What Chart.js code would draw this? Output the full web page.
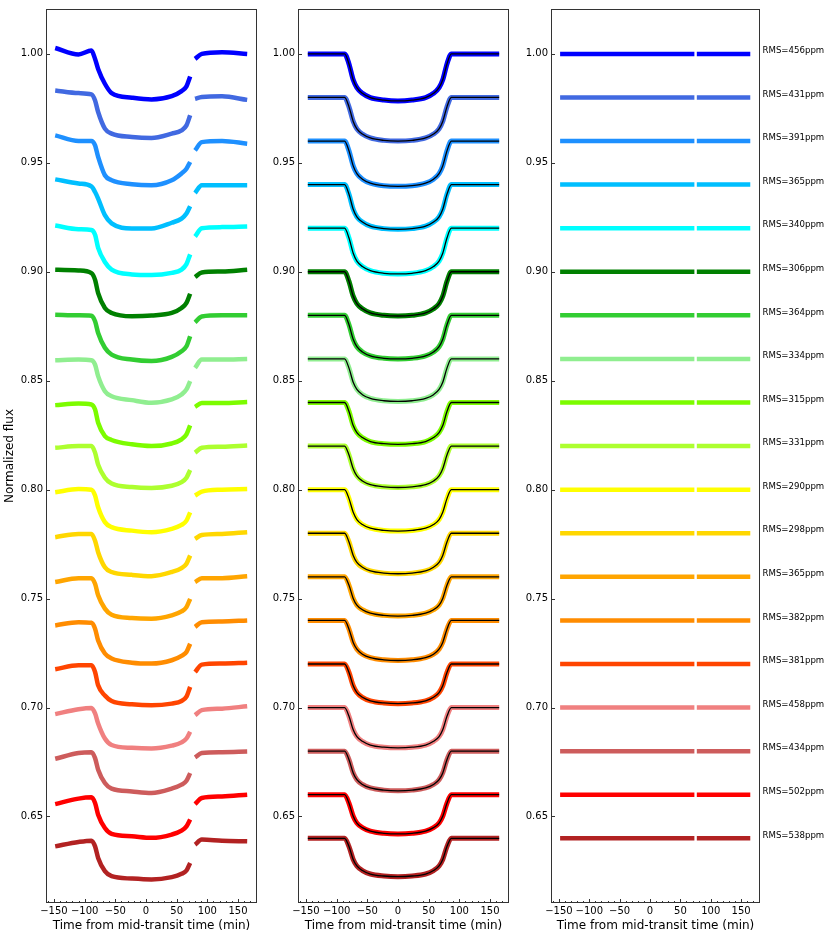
<!DOCTYPE html>
<html>
<head>
<meta charset="utf-8">
<script src="https://cdn.jsdelivr.net/npm/chart.js@4.4.1/dist/chart.umd.min.js"></script>
<style>
html, body { margin: 0; padding: 0; background: #fff; }
#wrap { position: relative; width: 830px; height: 938px; }
canvas { position: absolute; top: 0; }
</style>
</head>
<body>
<div id="wrap">
    <canvas id="rawChart" width="270" height="938" style="left:0px"></canvas>
    <canvas id="fitChart" width="253" height="938" style="left:270px"></canvas>
    <canvas id="resChart" width="307" height="938" style="left:523px"></canvas>
</div>
<script>
const baselines = [1.00, 0.98, 0.96, 0.94, 0.92, 0.90, 0.88, 0.86, 0.84, 0.82, 0.80, 0.78, 0.76, 0.74, 0.72, 0.70, 0.68, 0.66, 0.64];
const rmsPpm = [456, 431, 391, 365, 340, 306, 364, 334, 315, 331, 290, 298, 365, 382, 381, 458, 434, 502, 538];
const bandColors = ['#0000ff', '#4169e1', '#1e90ff', '#00bfff', '#00ffff', '#008000', '#32cd32', '#90ee90', '#7cfc00', '#adff2f',
    '#ffff00', '#ffd700', '#ffa500', '#ff8c00', '#ff4500', '#f08080', '#cd5c5c', '#ff0000', '#b22222'];

const xTicks = [-150, -100, -50, 0, 50, 100, 150];
const xMinorTicks = [-160, -140, -130, -120, -110, -90, -80, -70, -60, -40, -30, -20, -10, 10, 20, 30, 40, 60, 70, 80, 90, 110, 120, 130, 140, 160, 170, 180];
const yTicks = [0.65, 0.70, 0.75, 0.80, 0.85, 0.90, 0.95, 1.00];

// left panel: raw light curves (null = data gap)
const rawTimes = [-148, -110, -89, -83, -78, -67, -56, -23, 9, 42, 58, 66, 72, 76, 80, 91, 124, 165];
const rawFlux = [
    [1.0027, 0.9997, 1.0015, 0.9977, 0.9931, 0.9863, 0.9820, 0.9799, 0.9791, 0.9806, 0.9829, 0.9851, 0.9896, null, 0.9977, 1.0000, 1.0008, 1.0000],
    [0.9832, 0.9820, 0.9814, 0.9786, 0.9733, 0.9657, 0.9634, 0.9619, 0.9614, 0.9634, 0.9649, 0.9672, 0.9718, null, 0.9794, 0.9802, 0.9805, 0.9789],
    [0.9626, 0.9600, 0.9600, 0.9580, 0.9527, 0.9443, 0.9420, 0.9402, 0.9397, 0.9420, 0.9451, 0.9473, 0.9504, null, 0.9557, 0.9595, 0.9600, 0.9588],
    [0.9424, 0.9405, 0.9392, 0.9366, 0.9336, 0.9260, 0.9222, 0.9199, 0.9199, 0.9225, 0.9244, 0.9267, 0.9301, null, 0.9362, 0.9397, 0.9397, 0.9397],
    [0.9212, 0.9195, 0.9192, 0.9170, 0.9110, 0.9045, 0.9010, 0.8988, 0.8985, 0.8995, 0.9010, 0.9035, 0.9080, null, 0.9162, 0.9200, 0.9205, 0.9208],
    [0.9009, 0.9006, 0.8994, 0.8963, 0.8902, 0.8834, 0.8811, 0.8796, 0.8799, 0.8811, 0.8834, 0.8857, 0.8899, null, 0.8976, 0.8997, 0.9001, 0.9009],
    [0.8803, 0.8800, 0.8798, 0.8773, 0.8719, 0.8651, 0.8620, 0.8597, 0.8590, 0.8609, 0.8635, 0.8658, 0.8704, null, 0.8768, 0.8795, 0.8800, 0.8800],
    [0.8594, 0.8597, 0.8594, 0.8574, 0.8521, 0.8452, 0.8429, 0.8411, 0.8399, 0.8414, 0.8437, 0.8460, 0.8498, null, 0.8559, 0.8597, 0.8597, 0.8600],
    [0.8388, 0.8395, 0.8391, 0.8368, 0.8307, 0.8246, 0.8228, 0.8208, 0.8200, 0.8212, 0.8231, 0.8254, 0.8295, null, 0.8380, 0.8398, 0.8398, 0.8402],
    [0.8192, 0.8200, 0.8200, 0.8170, 0.8115, 0.8055, 0.8028, 0.8012, 0.8008, 0.8018, 0.8035, 0.8055, 0.8090, null, 0.8170, 0.8192, 0.8197, 0.8203],
    [0.7988, 0.8003, 0.8000, 0.7973, 0.7919, 0.7851, 0.7828, 0.7812, 0.7805, 0.7820, 0.7838, 0.7858, 0.7896, null, 0.7973, 0.7991, 0.8000, 0.8003],
    [0.7782, 0.7797, 0.7797, 0.7766, 0.7713, 0.7644, 0.7622, 0.7609, 0.7603, 0.7622, 0.7640, 0.7660, 0.7698, null, 0.7774, 0.7792, 0.7797, 0.7805],
    [0.7576, 0.7594, 0.7594, 0.7568, 0.7515, 0.7454, 0.7426, 0.7411, 0.7408, 0.7423, 0.7441, 0.7461, 0.7499, null, 0.7576, 0.7594, 0.7594, 0.7603],
    [0.7377, 0.7392, 0.7389, 0.7362, 0.7308, 0.7248, 0.7225, 0.7206, 0.7202, 0.7217, 0.7237, 0.7255, 0.7293, null, 0.7370, 0.7392, 0.7395, 0.7400],
    [0.7176, 0.7194, 0.7194, 0.7163, 0.7102, 0.7055, 0.7030, 0.7015, 0.7010, 0.7018, 0.7030, 0.7050, 0.7095, null, 0.7163, 0.7197, 0.7202, 0.7206],
    [0.6970, 0.6992, 0.6998, 0.6973, 0.6927, 0.6858, 0.6828, 0.6815, 0.6812, 0.6825, 0.6840, 0.6858, 0.6889, null, 0.6965, 0.6988, 0.6995, 0.7006],
    [0.6765, 0.6791, 0.6795, 0.6768, 0.6715, 0.6654, 0.6628, 0.6615, 0.6608, 0.6628, 0.6646, 0.6664, 0.6699, null, 0.6771, 0.6791, 0.6795, 0.6798],
    [0.6557, 0.6582, 0.6588, 0.6562, 0.6508, 0.6447, 0.6420, 0.6409, 0.6402, 0.6417, 0.6435, 0.6455, 0.6486, null, 0.6557, 0.6585, 0.6592, 0.6600],
    [0.6363, 0.6383, 0.6389, 0.6363, 0.6310, 0.6249, 0.6226, 0.6215, 0.6211, 0.6222, 0.6237, 0.6252, 0.6287, null, 0.6371, 0.6394, 0.6389, 0.6386]
];

// middle panel: detrended light curves and transit model
const modelTimes = [-147, -87, -80, -73, -67, -58, -45, -23, 0, 23, 45, 58, 67, 73, 80, 87, 165];
const modelFlux = [
    [1.0000, 1.0000, 0.9955, 0.9881, 0.9845, 0.9819, 0.9799, 0.9788, 0.9784, 0.9788, 0.9799, 0.9819, 0.9845, 0.9881, 0.9955, 1.0000, 1.0000],
    [0.9800, 0.9800, 0.9758, 0.9690, 0.9656, 0.9632, 0.9614, 0.9603, 0.9600, 0.9603, 0.9614, 0.9632, 0.9656, 0.9690, 0.9758, 0.9800, 0.9800],
    [0.9600, 0.9600, 0.9556, 0.9486, 0.9450, 0.9425, 0.9407, 0.9395, 0.9392, 0.9395, 0.9407, 0.9425, 0.9450, 0.9486, 0.9556, 0.9600, 0.9600],
    [0.9400, 0.9400, 0.9357, 0.9287, 0.9252, 0.9228, 0.9209, 0.9198, 0.9195, 0.9198, 0.9209, 0.9228, 0.9252, 0.9287, 0.9357, 0.9400, 0.9400],
    [0.9200, 0.9200, 0.9156, 0.9085, 0.9049, 0.9024, 0.9005, 0.8993, 0.8990, 0.8993, 0.9005, 0.9024, 0.9049, 0.9085, 0.9156, 0.9200, 0.9200],
    [0.9000, 0.9000, 0.8957, 0.8888, 0.8854, 0.8830, 0.8811, 0.8800, 0.8797, 0.8800, 0.8811, 0.8830, 0.8854, 0.8888, 0.8957, 0.9000, 0.9000],
    [0.8800, 0.8800, 0.8758, 0.8690, 0.8656, 0.8632, 0.8614, 0.8603, 0.8600, 0.8603, 0.8614, 0.8632, 0.8656, 0.8690, 0.8758, 0.8800, 0.8800],
    [0.8600, 0.8600, 0.8559, 0.8493, 0.8460, 0.8436, 0.8419, 0.8408, 0.8405, 0.8408, 0.8419, 0.8436, 0.8460, 0.8493, 0.8559, 0.8600, 0.8600],
    [0.8400, 0.8400, 0.8360, 0.8294, 0.8262, 0.8239, 0.8221, 0.8211, 0.8208, 0.8211, 0.8221, 0.8239, 0.8262, 0.8294, 0.8360, 0.8400, 0.8400],
    [0.8200, 0.8200, 0.8160, 0.8096, 0.8063, 0.8040, 0.8023, 0.8013, 0.8010, 0.8013, 0.8023, 0.8040, 0.8063, 0.8096, 0.8160, 0.8200, 0.8200],
    [0.8000, 0.8000, 0.7960, 0.7896, 0.7863, 0.7840, 0.7823, 0.7813, 0.7810, 0.7813, 0.7823, 0.7840, 0.7863, 0.7896, 0.7960, 0.8000, 0.8000],
    [0.7800, 0.7800, 0.7761, 0.7698, 0.7666, 0.7644, 0.7627, 0.7617, 0.7614, 0.7617, 0.7627, 0.7644, 0.7666, 0.7698, 0.7761, 0.7800, 0.7800],
    [0.7600, 0.7600, 0.7562, 0.7501, 0.7470, 0.7449, 0.7433, 0.7423, 0.7420, 0.7423, 0.7433, 0.7449, 0.7470, 0.7501, 0.7562, 0.7600, 0.7600],
    [0.7400, 0.7400, 0.7361, 0.7299, 0.7268, 0.7245, 0.7229, 0.7219, 0.7216, 0.7219, 0.7229, 0.7245, 0.7268, 0.7299, 0.7361, 0.7400, 0.7400],
    [0.7200, 0.7200, 0.7162, 0.7100, 0.7069, 0.7047, 0.7031, 0.7021, 0.7018, 0.7021, 0.7031, 0.7047, 0.7069, 0.7100, 0.7162, 0.7200, 0.7200],
    [0.7000, 0.7000, 0.6961, 0.6898, 0.6867, 0.6845, 0.6828, 0.6818, 0.6815, 0.6818, 0.6828, 0.6845, 0.6867, 0.6898, 0.6961, 0.7000, 0.7000],
    [0.6800, 0.6800, 0.6762, 0.6700, 0.6669, 0.6647, 0.6631, 0.6621, 0.6618, 0.6621, 0.6631, 0.6647, 0.6669, 0.6700, 0.6762, 0.6800, 0.6800],
    [0.6600, 0.6600, 0.6562, 0.6501, 0.6470, 0.6449, 0.6433, 0.6423, 0.6420, 0.6423, 0.6433, 0.6449, 0.6470, 0.6501, 0.6562, 0.6600, 0.6600],
    [0.6400, 0.6400, 0.6363, 0.6303, 0.6273, 0.6252, 0.6236, 0.6227, 0.6224, 0.6227, 0.6236, 0.6252, 0.6273, 0.6303, 0.6363, 0.6400, 0.6400]
];

// right panel: residuals, two segments either side of the gap
const resTimes = [-148, 73, 75, 77, 165];

Chart.defaults.font.family = '"DejaVu Sans", sans-serif';
Chart.defaults.color = '#000';

function toPoints(times, values) {
    return times.map(function(t, k) { return { x: t, y: values[k] }; });
}

function minus(v) {
    return v < 0 ? '\u2212' + Math.abs(v) : '' + v;
}

const frame = {
    id: 'frame',
    afterDraw: function(chart) {
        const ctx = chart.ctx, a = chart.chartArea, x = chart.scales.x, y = chart.scales.y;
        ctx.save();
        ctx.strokeStyle = '#333';
        ctx.lineWidth = 1;
        ctx.strokeRect(a.left + 0.5, a.top + 0.5, a.right - a.left - 1, a.bottom - a.top - 1);
        ctx.beginPath();
        xTicks.forEach(function(v) {
            const px = Math.round(x.getPixelForValue(v)) + 0.5;
            ctx.moveTo(px, a.bottom); ctx.lineTo(px, a.bottom - 4);
        });
        xMinorTicks.forEach(function(v) {
            const px = Math.round(x.getPixelForValue(v)) + 0.5;
            ctx.moveTo(px, a.bottom); ctx.lineTo(px, a.bottom - 2);
        });
        yTicks.forEach(function(v) {
            const py = Math.round(y.getPixelForValue(v)) + 0.5;
            ctx.moveTo(a.left, py); ctx.lineTo(a.left + 4, py);
        });
        ctx.stroke();
        ctx.restore();
    }
};

const rmsLabels = {
    id: 'rmsLabels',
    afterDraw: function(chart) {
        const ctx = chart.ctx, y = chart.scales.y;
        ctx.save();
        ctx.font = '8.6px "DejaVu Sans"';
        ctx.fillStyle = '#000';
        ctx.textBaseline = 'middle';
        baselines.forEach(function(b, i) {
            ctx.fillText('RMS=' + rmsPpm[i] + 'ppm', chart.chartArea.right + 2.5, y.getPixelForValue(b) - 3);
        });
        ctx.restore();
    }
};

function makeOptions(yWidth, padRight, yTitle) {
    return {
        responsive: false,
        animation: false,
        events: [],
        layout: { padding: { top: 5, right: padRight, bottom: 0, left: 0 } },
        plugins: { legend: { display: false }, tooltip: { enabled: false } },
        elements: { point: { radius: 0 }, line: { cubicInterpolationMode: 'monotone' } },
        scales: {
            x: {
                type: 'linear', min: -163, max: 181,
                grid: { display: false, drawTicks: false }, border: { display: false },
                afterBuildTicks: function(s) { s.ticks = xTicks.map(function(v) { return { value: v }; }); },
                afterFit: function(s) { s.height = 35; },
                ticks: { autoSkip: false, maxRotation: 0, padding: 2.5, font: { size: 10 }, callback: minus },
                title: { display: true, text: 'Time from mid-transit time (min)', font: { size: 12 }, padding: { top: 0, bottom: 5 } }
            },
            y: {
                type: 'linear', min: 0.6103, max: 1.0206,
                grid: { display: false, drawTicks: false }, border: { display: false },
                afterBuildTicks: function(s) { s.ticks = yTicks.map(function(v) { return { value: v }; }); },
                afterFit: function(s) { s.width = yWidth; },
                ticks: { padding: 3, font: { size: 10 }, callback: function(v) { return v.toFixed(2); } },
                title: { display: !!yTitle, text: yTitle || '', font: { size: 12 }, padding: { top: 3, bottom: 0 } }
            }
        }
    };
}

var rawSets = rawFlux.map(function(f, i) {
    return { data: toPoints(rawTimes, f), borderColor: bandColors[i], borderWidth: 4.5, spanGaps: false };
});

var fitSets = modelFlux.map(function(f, i) {
    return { data: toPoints(modelTimes, f), borderColor: bandColors[i], borderWidth: 5, order: 2 };
});
modelFlux.forEach(function(f) {
    fitSets.push({ data: toPoints(modelTimes, f), borderColor: '#000', borderWidth: 1.3, order: 1 });
});

var resSets = baselines.map(function(b, i) {
    var vals = [b, b, null, b, b];
    return { data: toPoints(resTimes, vals), borderColor: bandColors[i], borderWidth: 4.5, spanGaps: false, cubicInterpolationMode: 'default', tension: 0 };
});

var rawChart = new Chart(document.getElementById('rawChart').getContext('2d'), {
    type: 'line',
    data: { datasets: rawSets },
    options: makeOptions(46, 13, 'Normalized flux'),
    plugins: [frame]
});

var fitChart = new Chart(document.getElementById('fitChart').getContext('2d'), {
    type: 'line',
    data: { datasets: fitSets },
    options: makeOptions(28, 14, ''),
    plugins: [frame]
});

var resChart = new Chart(document.getElementById('resChart').getContext('2d'), {
    type: 'line',
    data: { datasets: resSets },
    options: makeOptions(28, 70, ''),
    plugins: [frame, rmsLabels]
});
</script>
</body>
</html>
